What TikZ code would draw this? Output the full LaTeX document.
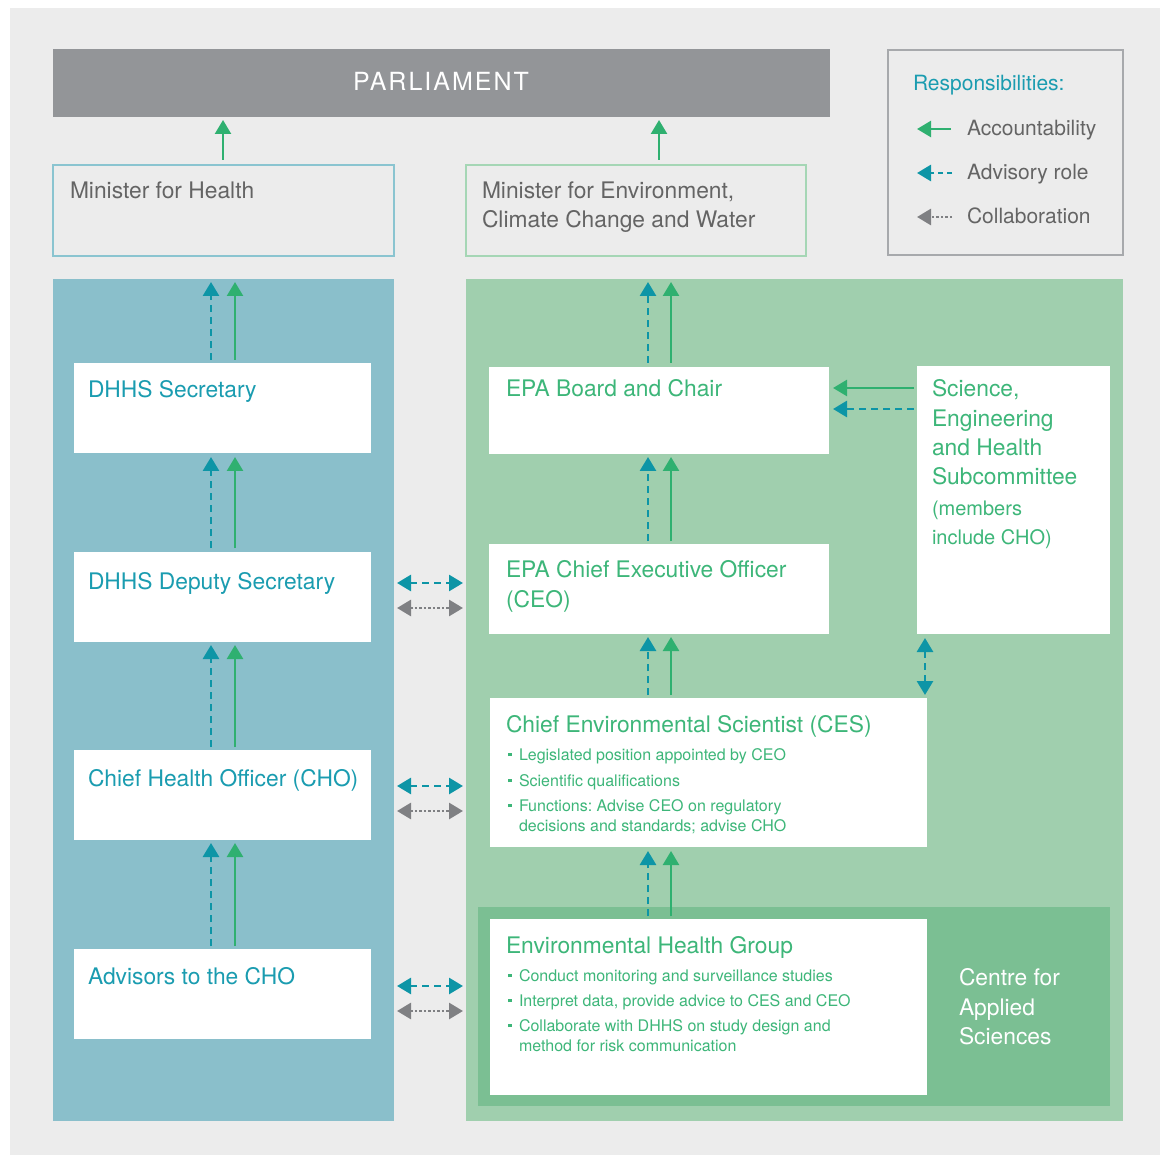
\documentclass[tikz,border=0pt]{standalone}
\usepackage{fontspec}
\setmainfont{TeX Gyre Heros}
\usetikzlibrary{arrows.meta}
\definecolor{bgc}{HTML}{ECECEC}
\definecolor{parlc}{HTML}{939598}
\definecolor{bluep}{HTML}{8ABFCB}
\definecolor{greenp}{HTML}{A0CFAE}
\definecolor{darkg}{HTML}{7BBF93}
\definecolor{tealar}{HTML}{0D95A6}
\definecolor{tealtx}{HTML}{1A9CB0}
\definecolor{greenar}{HTML}{2FB070}
\definecolor{greentx}{HTML}{3DB679}
\definecolor{grayar}{HTML}{7F8083}
\definecolor{graytx}{HTML}{646464}
\definecolor{minhb}{HTML}{8AC4D0}
\definecolor{mineb}{HTML}{A5D6B5}
\definecolor{legb}{HTML}{A7A9AC}
\newcommand{\bsq}{\makebox[11pt][l]{\rule[4pt]{3.5pt}{3.5pt}}}
\frenchspacing
\begin{document}
\begin{tikzpicture}[x=1pt,y=-1pt,
  blk/.style={anchor=north west, inner sep=0pt, outer sep=0pt},
  txt/.style={anchor=base west, inner sep=0pt, outer sep=0pt},
  big/.style={font=\fontsize{22.8}{26}\selectfont},
  mid/.style={font=\fontsize{20}{24}\selectfont},
  sml/.style={font=\fontsize{16}{19}\selectfont},
  acc/.style={draw=greenar, line width=2.5pt, -{Triangle[width=16pt,length=14pt]}},
  adv/.style={draw=tealar, line width=2.8pt, dash pattern=on 7pt off 5pt, -{Triangle[width=16pt,length=14pt]}},
  advd/.style={draw=tealar, line width=2.8pt, dash pattern=on 7pt off 5pt, {Triangle[width=16pt,length=14pt]}-{Triangle[width=16pt,length=14pt]}},
  cold/.style={draw=grayar, line width=2.8pt, dash pattern=on 2.5pt off 2pt, {Triangle[width=16pt,length=14pt]}-{Triangle[width=16pt,length=14pt]}},
  col/.style={draw=grayar, line width=2.8pt, dash pattern=on 2.5pt off 2pt, -{Triangle[width=16pt,length=14pt]}}
]
\useasboundingbox (0,0) rectangle (1160,1155);
\fill[bgc] (10,8) rectangle (1160,1155);

% top row
\node[blk, fill=parlc, minimum width=777pt, minimum height=68pt] (parl) at (53,49) {};
\node[anchor=base, inner sep=0pt, text=white, font=\fontsize{25}{28}\selectfont\addfontfeatures{LetterSpace=8}] (parlt) at (441,91) {PARLIAMENT};
\node[blk, draw=minhb, line width=2pt, minimum width=341pt, minimum height=91pt] (minh) at (53,165) {};
\node[blk, draw=mineb, line width=2pt, minimum width=340pt, minimum height=91pt] (mine) at (466,165) {};
\node[txt, big, text=graytx] (minht) at (70,199) {Minister for Health};
\node[txt, big, text=graytx] (minet1) at (482,199) {Minister for Environment,};
\node[txt, big, text=graytx] (minet2) at (482,228) {Climate Change and Water};

% legend
\node[blk, draw=legb, line width=1.5pt, minimum width=235pt, minimum height=205pt] (leg) at (888,50) {};
\node[txt, font=\fontsize{21}{25}\selectfont, text=tealtx] (legt) at (913,91) {Responsibilities:};
\node[txt, font=\fontsize{21}{25}\selectfont, text=graytx] (leg1) at (967,136) {Accountability};
\node[txt, font=\fontsize{21}{25}\selectfont, text=graytx] (leg2) at (967,180) {Advisory role};
\node[txt, font=\fontsize{21}{25}\selectfont, text=graytx] (leg3) at (967,224) {Collaboration};
\coordinate (l1a) at (951,129); \coordinate (l1b) at (917,129);
\coordinate (l2a) at (952,173); \coordinate (l2b) at (917,173);
\coordinate (l3a) at (952,217); \coordinate (l3b) at (917,217);
\draw[acc] (l1a) -- (l1b);
\draw[adv, dash pattern=on 5pt off 4pt] (l2a) -- (l2b);
\draw[col] (l3a) -- (l3b);

% panels
\node[blk, fill=bluep, minimum width=341pt, minimum height=842pt] (lp) at (53,279) {};
\node[blk, fill=greenp, minimum width=657pt, minimum height=842pt] (rp) at (466,279) {};
\node[blk, fill=darkg, minimum width=632pt, minimum height=199pt] (cas) at (478,907) {};

% left boxes
\node[blk, fill=white, minimum width=297pt, minimum height=90pt] (dsec) at (74,363) {};
\node[blk, fill=white, minimum width=297pt, minimum height=90pt] (ddep) at (74,552) {};
\node[blk, fill=white, minimum width=297pt, minimum height=90pt] (cho) at (74,750) {};
\node[blk, fill=white, minimum width=297pt, minimum height=90pt] (advs) at (74,949) {};
\node[txt, big, text=tealtx] (dsect) at (88,398) {DHHS Secretary};
\node[txt, big, text=tealtx] (ddept) at (88,589) {DHHS Deputy Secretary};
\node[txt, big, text=tealtx] (chot) at (88,786) {Chief Health Officer (CHO)};
\node[txt, big, text=tealtx] (advst) at (88,984) {Advisors to the CHO};

% right boxes
\node[blk, fill=white, minimum width=340pt, minimum height=87pt] (board) at (489,367) {};
\node[blk, fill=white, minimum width=340pt, minimum height=90pt] (ceo) at (489,544) {};
\node[blk, fill=white, minimum width=193pt, minimum height=268pt] (sehs) at (917,366) {};
\node[blk, fill=white, minimum width=437pt, minimum height=149pt] (ces) at (490,698) {};
\node[blk, fill=white, minimum width=437pt, minimum height=176pt] (ehg) at (490,919) {};

\node[txt, big, text=greentx] (boardt) at (506,397) {EPA Board and Chair};
\node[txt, big, text=greentx] (ceot1) at (506,577) {EPA Chief Executive Officer};
\node[txt, big, text=greentx] (ceot2) at (506,607) {(CEO)};

\node[txt, big, text=greentx] (sehs1) at (932,397) {Science,};
\node[txt, big, text=greentx] (sehs2) at (932,427) {Engineering};
\node[txt, big, text=greentx] (sehs3) at (932,456) {and Health};
\node[txt, big, text=greentx] (sehs4) at (932,485) {Subcommittee};
\node[txt, mid, text=greentx] (sehs5) at (932,515) {(members};
\node[txt, mid, text=greentx] (sehs6) at (932,544) {include CHO)};

\node[txt, big, text=greentx] (cest) at (506,732) {Chief Environmental Scientist (CES)};
\node[txt, sml, text=greentx] (ces1) at (508,760) {\bsq Legislated position appointed by CEO};
\node[txt, sml, text=greentx] (ces2) at (508,786) {\bsq Scientific qualifications};
\node[txt, sml, text=greentx] (ces3) at (508,811) {\bsq Functions: Advise CEO on regulatory};
\node[txt, sml, text=greentx] (ces4) at (519,831) {decisions and standards; advise CHO};

\node[txt, big, text=greentx] (ehgt) at (506,953) {Environmental Health Group};
\node[txt, sml, text=greentx] (ehg1) at (508,981) {\bsq Conduct monitoring and surveillance studies};
\node[txt, sml, text=greentx] (ehg2) at (508,1006) {\bsq Interpret data, provide advice to CES and CEO};
\node[txt, sml, text=greentx] (ehg3) at (508,1031) {\bsq Collaborate with DHHS on study design and};
\node[txt, sml, text=greentx] (ehg4) at (519,1051) {method for risk communication};

\node[txt, big, text=white] (cas1) at (959,985) {Centre for};
\node[txt, big, text=white] (cas2) at (959,1015) {Applied};
\node[txt, big, text=white] (cas3) at (959,1044) {Sciences};

% x positions
\coordinate (xpl) at (223,0);
\coordinate (xpr) at (659,0);
\coordinate (xld) at (211,0);
\coordinate (xls) at (235,0);
\coordinate (xrd) at (648,0);
\coordinate (xrs) at (671,0);
\coordinate (xse) at (925,0);
\coordinate (y1a) at (0,583); \coordinate (y1b) at (0,608);
\coordinate (y2a) at (0,786); \coordinate (y2b) at (0,811);
\coordinate (y3a) at (0,986); \coordinate (y3b) at (0,1011);
\coordinate (yb1) at (0,388); \coordinate (yb2) at (0,409);

% to parliament
\draw[acc, shorten <=5pt, shorten >=3pt] (minh.north -| xpl) -- (parl.south -| xpl);
\draw[acc, shorten <=5pt, shorten >=3pt] (mine.north -| xpr) -- (parl.south -| xpr);

% left chain
\draw[adv, shorten <=3pt, shorten >=3pt] (dsec.north -| xld) -- (lp.north -| xld);
\draw[acc, shorten <=3pt, shorten >=3pt] (dsec.north -| xls) -- (lp.north -| xls);
\draw[adv, shorten <=4pt, shorten >=4pt] (ddep.north -| xld) -- (dsec.south -| xld);
\draw[acc, shorten <=4pt, shorten >=4pt] (ddep.north -| xls) -- (dsec.south -| xls);
\draw[adv, shorten <=3pt, shorten >=3pt] (cho.north -| xld) -- (ddep.south -| xld);
\draw[acc, shorten <=3pt, shorten >=3pt] (cho.north -| xls) -- (ddep.south -| xls);
\draw[adv, shorten <=3pt, shorten >=3pt] (advs.north -| xld) -- (cho.south -| xld);
\draw[acc, shorten <=3pt, shorten >=3pt] (advs.north -| xls) -- (cho.south -| xls);

% right chain
\draw[adv, shorten <=4pt, shorten >=3pt] (board.north -| xrd) -- (rp.north -| xrd);
\draw[acc, shorten <=4pt, shorten >=3pt] (board.north -| xrs) -- (rp.north -| xrs);
\draw[adv, shorten <=3pt, shorten >=3pt] (ceo.north -| xrd) -- (board.south -| xrd);
\draw[acc, shorten <=3pt, shorten >=3pt] (ceo.north -| xrs) -- (board.south -| xrs);
\draw[adv, shorten <=3pt, shorten >=3pt] (ces.north -| xrd) -- (ceo.south -| xrd);
\draw[acc, shorten <=3pt, shorten >=3pt] (ces.north -| xrs) -- (ceo.south -| xrs);
\draw[adv, shorten <=3pt, shorten >=4pt] (ehg.north -| xrd) -- (ces.south -| xrd);
\draw[acc, shorten <=3pt, shorten >=4pt] (ehg.north -| xrs) -- (ces.south -| xrs);

% subcommittee
\draw[acc, shorten <=3pt, shorten >=4pt] (sehs.west |- yb1) -- (board.east |- yb1);
\draw[adv, shorten <=3pt, shorten >=4pt] (sehs.west |- yb2) -- (board.east |- yb2);
\draw[advd, shorten <=4pt, shorten >=3pt] (sehs.south -| xse) -- (ces.north -| xse);

% between panels
\draw[advd, shorten <=3pt, shorten >=3pt] (lp.east |- y1a) -- (rp.west |- y1a);
\draw[cold, shorten <=3pt, shorten >=3pt] (lp.east |- y1b) -- (rp.west |- y1b);
\draw[advd, shorten <=3pt, shorten >=3pt] (lp.east |- y2a) -- (rp.west |- y2a);
\draw[cold, shorten <=3pt, shorten >=3pt] (lp.east |- y2b) -- (rp.west |- y2b);
\draw[advd, shorten <=3pt, shorten >=3pt] (lp.east |- y3a) -- (rp.west |- y3a);
\draw[cold, shorten <=3pt, shorten >=3pt] (lp.east |- y3b) -- (rp.west |- y3b);
\end{tikzpicture}
\end{document}
